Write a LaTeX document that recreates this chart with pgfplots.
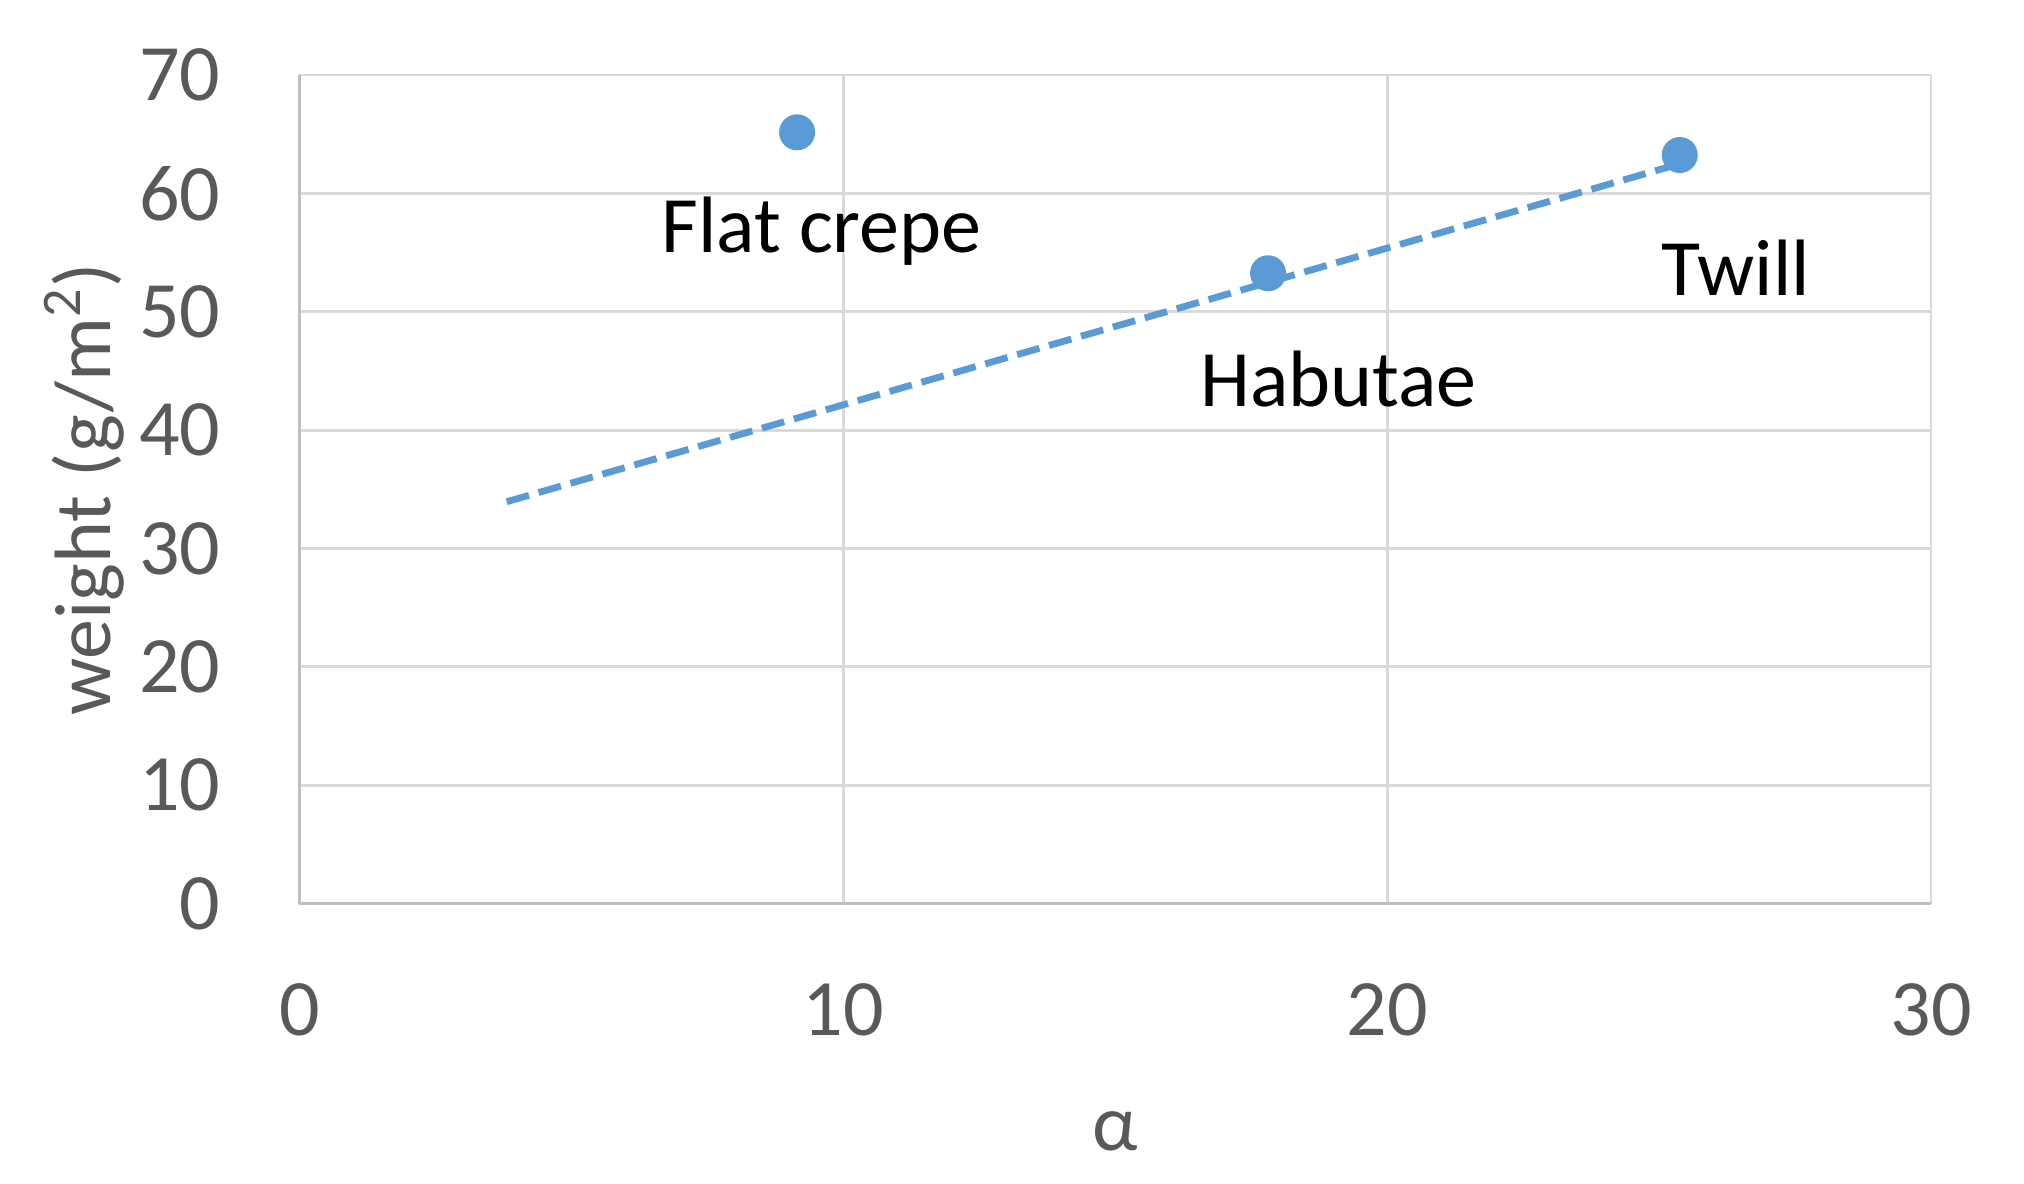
\documentclass[border=0pt]{standalone}
\usepackage{fontspec}
\setmainfont{Carlito}
\usepackage{pgfplots}
\pgfplotsset{compat=1.18}
\definecolor{ptblue}{HTML}{5B9BD5}
\definecolor{tickgrey}{HTML}{595959}
\definecolor{gridgrey}{HTML}{D9D9D9}
\definecolor{axisgrey}{HTML}{BFBFBF}
\begin{document}
\begin{tikzpicture}
\path[use as bounding box] (-74.875pt,-70.1pt) rectangle (431.125pt,225.9pt);
\begin{axis}[
  at={(0,0)}, anchor=south west,
  scale only axis, width=407.875pt, height=207.15pt,
  xmin=0, xmax=30, ymin=0, ymax=70,
  xtick={0,10,20,30}, ytick={0,10,...,70},
  axis lines=left,
  axis line style={-, draw=axisgrey, line width=0.8pt},
  grid=major, major grid style={draw=gridgrey, line width=0.7pt},
  major tick length=0pt,
  tick style={draw=none},
  /pgf/number format/assume math mode=true,
  ticklabel style={font=\fontsize{20}{24}\selectfont, text=tickgrey},
  xticklabel style={anchor=center, inner sep=0pt, yshift=-26.6pt},
  yticklabel style={anchor=east, inner sep=0pt, xshift=-19.6pt},
  xlabel={α},
  ylabel={weight (g/m\textsuperscript{2})},
  label style={font=\fontsize{20}{24}\selectfont, text=tickgrey},
  xlabel style={at={(axis description cs:0.5,-0.27468)}, anchor=center},
  ylabel style={at={(axis description cs:-0.13215,0.5)}, anchor=center},
  clip=false,
]
\addplot[ptblue, line width=1.7pt, line cap=butt, dash pattern=on 5.8pt off 2.5pt, no marks]
  coordinates {(3.81,33.95) (25.38,62.5)};
\addplot[only marks, mark=*, mark size=4.3pt, mark options={draw=ptblue, fill=ptblue}]
  coordinates {(9.15,65.16) (17.81,53.25) (25.38,63.24)};
\node[anchor=base, font=\fontsize{20}{24}\selectfont, text=black] at (axis cs:9.60,55.0) {Flat crepe};
\node[anchor=base, font=\fontsize{20}{24}\selectfont, text=black] at (axis cs:19.11,41.98) {Habutae};
\node[anchor=base, font=\fontsize{20}{24}\selectfont, text=black] at (axis cs:26.41,51.41) {Twill};
\end{axis}
\end{tikzpicture}
\end{document}
